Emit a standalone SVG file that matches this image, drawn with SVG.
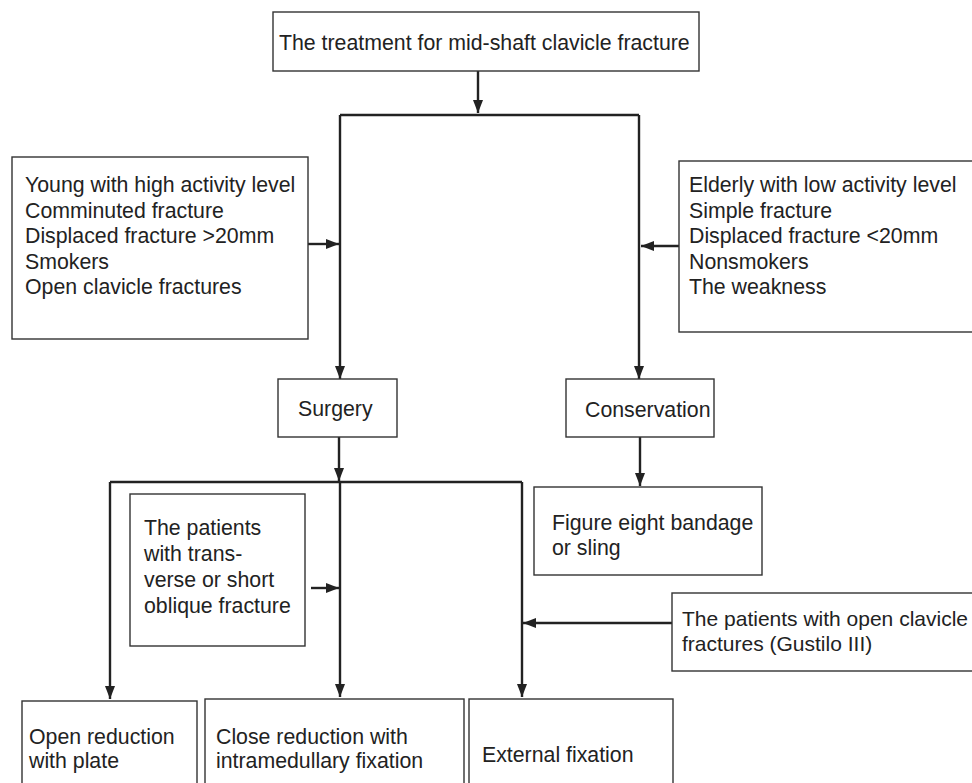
<svg xmlns="http://www.w3.org/2000/svg" width="972" height="783" viewBox="0 0 972 783">
<style>
.box{fill:#fff;stroke:#333;stroke-width:1.4}
.t{font-family:"Liberation Sans",Arial,sans-serif;font-size:21.3px;fill:#222}
.s{font-size:21px}
.c{fill:none;stroke:#222;stroke-width:2.4}
.a{marker-end:url(#ah)}
</style>
<defs>
<marker id="ah" viewBox="0 0 13 10" refX="13" refY="5" markerWidth="13" markerHeight="10" markerUnits="userSpaceOnUse" orient="auto">
<path d="M0,0 L13,5 L0,10 z" fill="#222"/>
</marker>
</defs>
<rect width="972" height="783" fill="#fff"/>
<g id="connectors">
<path class="c a" d="M478,71 V113"/>
<path class="c" d="M340,115 H639"/>
<path class="c a" d="M340,115 V379"/>
<path class="c a" d="M639,115 V379"/>
<path class="c a" d="M308,244 H339"/>
<path class="c a" d="M679,246 H641"/>
<path class="c a" d="M339,437 V481"/>
<path class="c a" d="M640,437 V486"/>
<path class="c" d="M110,482 H522"/>
<path class="c a" d="M110,482 V699"/>
<path class="c a" d="M340,482 V697"/>
<path class="c a" d="M522,482 V697"/>
<path class="c a" d="M311,588 H339"/>
<path class="c a" d="M672,623 H523"/>
</g>
<g id="n-top">
<rect class="box" x="273" y="12" width="426" height="59"/>
<text class="t" x="279" y="50">The treatment for mid-shaft clavicle fracture</text>
</g>
<g id="n-surgical-indications">
<rect class="box" x="12" y="157" width="296" height="182"/>
<text class="t" x="25" y="192">Young with high activity level</text>
<text class="t" x="25" y="218">Comminuted fracture</text>
<text class="t" x="25" y="243">Displaced fracture &gt;20mm</text>
<text class="t" x="25" y="269">Smokers</text>
<text class="t" x="25" y="294">Open clavicle fractures</text>
</g>
<g id="n-conservative-indications">
<rect class="box" x="679" y="161" width="300" height="171"/>
<text class="t" x="689" y="192">Elderly with low activity level</text>
<text class="t" x="689" y="218">Simple fracture</text>
<text class="t" x="689" y="243">Displaced fracture &lt;20mm</text>
<text class="t" x="689" y="269">Nonsmokers</text>
<text class="t" x="689" y="294">The weakness</text>
</g>
<g id="n-surgery">
<rect class="box" x="278" y="379" width="119" height="58"/>
<text class="t" x="298" y="416">Surgery</text>
</g>
<g id="n-conservation">
<rect class="box" x="566" y="379" width="148" height="58"/>
<text class="t" x="585" y="417">Conservation</text>
</g>
<g id="n-figure-eight">
<rect class="box" x="534" y="487" width="228" height="88"/>
<text class="t" x="552" y="530">Figure eight bandage</text>
<text class="t" x="552" y="555">or sling</text>
</g>
<g id="n-transverse">
<rect class="box" x="130" y="494" width="175" height="152"/>
<text class="t" x="144" y="535">The patients</text>
<text class="t" x="144" y="561">with trans-</text>
<text class="t" x="144" y="587">verse or short</text>
<text class="t" x="144" y="613">oblique fracture</text>
</g>
<g id="n-gustilo">
<rect class="box" x="672" y="593" width="310" height="78"/>
<text class="t s" x="682" y="626">The patients with open clavicle</text>
<text class="t s" x="682" y="651">fractures (Gustilo III)</text>
</g>
<g id="n-open-reduction">
<rect class="box" x="22" y="701" width="175" height="90"/>
<text class="t" x="29" y="744">Open reduction</text>
<text class="t" x="29" y="768">with plate</text>
</g>
<g id="n-close-reduction">
<rect class="box" x="205" y="699" width="259" height="92"/>
<text class="t" x="216" y="744">Close reduction with</text>
<text class="t" x="216" y="768">intramedullary fixation</text>
</g>
<g id="n-external">
<rect class="box" x="469" y="699" width="204" height="92"/>
<text class="t" x="482" y="762">External fixation</text>
</g>
</svg>
